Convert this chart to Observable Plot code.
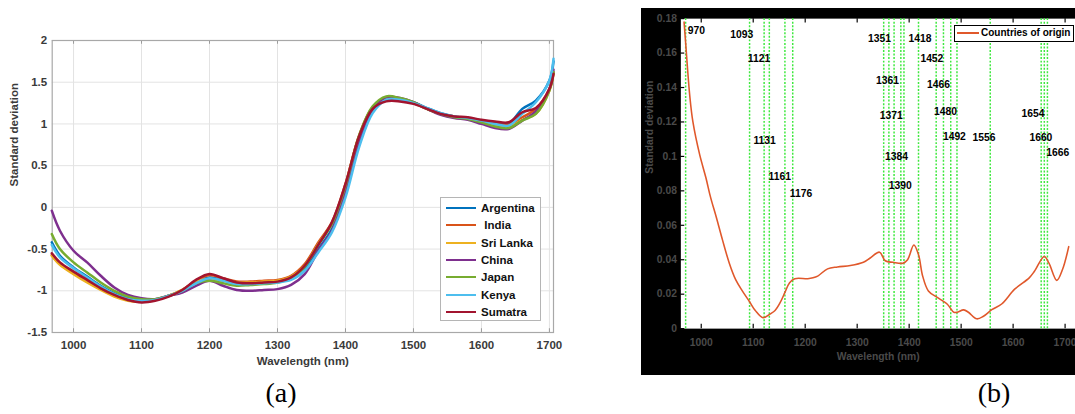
<!DOCTYPE html>
<html><head><meta charset="utf-8">
<script src="https://cdn.jsdelivr.net/npm/d3@7"></script>
<script src="https://cdn.jsdelivr.net/npm/@observablehq/plot@0.6"></script>
<style>
html,body{margin:0;padding:0;background:#fff;overflow:hidden;}
#page{position:relative;width:1075px;height:414px;overflow:hidden;font-family:"Liberation Sans",Arial,sans-serif;}
#pa{position:absolute;left:0;top:0;}
#pbbg{position:absolute;left:641px;top:8px;width:434px;height:367px;background:#000;}
#pb{position:absolute;left:641px;top:8px;}
.cap{position:absolute;top:376px;font-family:"Liberation Serif","Times New Roman",serif;font-size:28px;line-height:34px;color:#000;transform:translateX(-50%);}
#lega{position:absolute;left:440px;top:197px;width:101px;height:124px;border:1px solid #b5b5b5;background:#fff;box-sizing:border-box;}
.lrow{position:absolute;left:4px;height:14px;width:96px;}
.lrow .sw{position:absolute;left:1px;top:6px;width:30px;height:0;border-top:2.5px solid;}
.lrow .tx{position:absolute;left:36px;top:-1px;font-size:11.5px;font-weight:bold;color:#111;white-space:pre;line-height:16px;}
#legb{position:absolute;left:954px;top:25px;width:120px;height:17px;border:1.5px solid #000;background:#fff;box-sizing:border-box;}
#legb .sw{position:absolute;left:2px;top:6px;width:22px;height:0;border-top:2px solid #e0582b;}
#legb .tx{position:absolute;left:26px;top:0px;font-size:10px;font-weight:bold;color:#000;line-height:14px;white-space:nowrap;}
</style>
</head><body>
<div id="page">
  <div id="pa"></div>
  <div id="pbbg"></div>
  <div id="pb"></div>
  <div id="lega"></div>
  <div id="legb"><div class="sw"></div><div class="tx">Countries of origin</div></div>
  <div class="cap" style="left:281px">(a)</div>
  <div class="cap" style="left:994px">(b)</div>
</div>
<script>
// ---------- Panel (a) data ----------
const countries = ["Argentina", " India", "Sri Lanka", "China", "Japan", "Kenya", "Sumatra"];
const countryColors = ["#0072BD", "#D95319", "#EDB120", "#7E2F8E", "#77AC30", "#4DBEEE", "#A2142F"];
const wavelengthsA = [968, 980, 1000, 1020, 1040, 1060, 1080, 1100, 1120, 1140, 1160, 1180, 1200, 1220, 1240, 1260, 1280, 1300, 1320, 1340, 1360, 1380, 1400, 1420, 1440, 1460, 1480, 1500, 1520, 1540, 1560, 1580, 1600, 1620, 1640, 1660, 1680, 1700, 1706];
const argentina = [-0.42, -0.58, -0.72, -0.83, -0.94, -1.03, -1.09, -1.12, -1.11, -1.06, -1.00, -0.90, -0.84, -0.87, -0.91, -0.91, -0.90, -0.89, -0.86, -0.74, -0.50, -0.26, 0.18, 0.78, 1.16, 1.31, 1.30, 1.26, 1.19, 1.13, 1.09, 1.07, 1.04, 1.01, 1.00, 1.18, 1.28, 1.52, 1.75];
const india     = [-0.57, -0.68, -0.79, -0.89, -0.98, -1.06, -1.11, -1.13, -1.11, -1.06, -0.99, -0.88, -0.81, -0.85, -0.89, -0.89, -0.88, -0.87, -0.82, -0.68, -0.42, -0.18, 0.28, 0.86, 1.20, 1.30, 1.29, 1.25, 1.18, 1.12, 1.09, 1.07, 1.04, 1.00, 0.99, 1.08, 1.18, 1.42, 1.62];
const sriLanka  = [-0.58, -0.69, -0.80, -0.90, -0.99, -1.07, -1.12, -1.13, -1.11, -1.06, -0.99, -0.89, -0.86, -0.88, -0.90, -0.90, -0.89, -0.88, -0.83, -0.70, -0.44, -0.19, 0.27, 0.85, 1.20, 1.31, 1.30, 1.25, 1.18, 1.12, 1.08, 1.06, 1.02, 0.98, 0.96, 1.05, 1.12, 1.40, 1.60];
const china     = [-0.04, -0.28, -0.52, -0.66, -0.82, -0.96, -1.05, -1.09, -1.10, -1.06, -1.02, -0.94, -0.88, -0.94, -0.99, -1.00, -0.99, -0.98, -0.93, -0.80, -0.52, -0.28, 0.20, 0.80, 1.17, 1.32, 1.31, 1.26, 1.18, 1.11, 1.07, 1.05, 1.00, 0.95, 0.94, 1.04, 1.15, 1.42, 1.65];
const japan     = [-0.32, -0.50, -0.66, -0.78, -0.90, -1.00, -1.07, -1.10, -1.10, -1.06, -1.00, -0.91, -0.88, -0.91, -0.94, -0.93, -0.92, -0.90, -0.85, -0.71, -0.45, -0.20, 0.26, 0.86, 1.21, 1.33, 1.31, 1.26, 1.18, 1.12, 1.08, 1.06, 1.02, 0.97, 0.95, 1.04, 1.12, 1.40, 1.62];
const kenya     = [-0.45, -0.60, -0.73, -0.84, -0.95, -1.04, -1.10, -1.12, -1.11, -1.06, -1.00, -0.91, -0.85, -0.88, -0.92, -0.92, -0.91, -0.90, -0.87, -0.76, -0.54, -0.30, 0.12, 0.72, 1.13, 1.29, 1.29, 1.25, 1.19, 1.13, 1.09, 1.07, 1.04, 1.00, 0.98, 1.12, 1.26, 1.52, 1.78];
const sumatra   = [-0.55, -0.66, -0.77, -0.87, -0.97, -1.05, -1.11, -1.14, -1.12, -1.07, -0.99, -0.87, -0.80, -0.85, -0.90, -0.91, -0.90, -0.89, -0.84, -0.70, -0.45, -0.18, 0.28, 0.85, 1.18, 1.27, 1.27, 1.24, 1.18, 1.12, 1.09, 1.08, 1.05, 1.03, 1.02, 1.14, 1.19, 1.42, 1.60];
const seriesA = [argentina, india, sriLanka, china, japan, kenya, sumatra];
const xTicksA = [1000, 1100, 1200, 1300, 1400, 1500, 1600, 1700];
const yTicksA = [-1.5, -1, -0.5, 0, 0.5, 1, 1.5, 2];

// ---------- Panel (b) data ----------
const wavelengthsB = [967, 970, 978, 984, 997, 1009, 1018, 1029, 1041, 1054, 1066, 1079, 1093, 1104, 1119, 1133, 1142, 1152, 1161, 1170, 1180, 1205, 1215, 1224, 1243, 1262, 1287, 1312, 1325, 1343, 1354, 1369, 1388, 1397, 1409, 1418, 1426, 1437, 1454, 1473, 1486, 1492, 1505, 1514, 1530, 1543, 1559, 1578, 1603, 1631, 1641, 1660, 1669, 1684, 1695, 1707];
const stdB = [0.178, 0.166, 0.135, 0.120, 0.101, 0.0876, 0.0762, 0.0647, 0.0514, 0.038, 0.0286, 0.0219, 0.0156, 0.0105, 0.0063, 0.0086, 0.0105, 0.0152, 0.021, 0.0267, 0.029, 0.029, 0.0295, 0.0305, 0.0347, 0.0358, 0.0366, 0.0385, 0.041, 0.0444, 0.0394, 0.0385, 0.038, 0.040, 0.0486, 0.0429, 0.0305, 0.0219, 0.0181, 0.0143, 0.0095, 0.0095, 0.0109, 0.0095, 0.0057, 0.0072, 0.011, 0.0143, 0.0229, 0.0295, 0.0333, 0.0419, 0.038, 0.028, 0.0343, 0.0476];
const bands = [970, 1093, 1121, 1131, 1161, 1176, 1351, 1361, 1371, 1384, 1390, 1418, 1452, 1466, 1480, 1492, 1556, 1654, 1660, 1666];
const bandLabelX = [990.5, 1078, 1111, 1122, 1151, 1192, 1343, 1358.5, 1365.7, 1375.6, 1382.8, 1421, 1443.7, 1456.4, 1470, 1487, 1543.8, 1638.4, 1653.4, 1685.8];
const bandLabelY = [0.1728, 0.1709, 0.1567, 0.1089, 0.0883, 0.0781, 0.1682, 0.144, 0.1238, 0.1, 0.0832, 0.1682, 0.1567, 0.1415, 0.1259, 0.1116, 0.1109, 0.1246, 0.1109, 0.1019];
const xTicksB = [1000, 1100, 1200, 1300, 1400, 1500, 1600, 1700];
const yTicksB = [0, 0.02, 0.04, 0.06, 0.08, 0.1, 0.12, 0.14, 0.16, 0.18];

// ---------- Panel (a) ----------
const tidyA = countries.flatMap((c, i) => wavelengthsA.map((w, j) => ({country: c, w, v: seriesA[i][j]})));
const xDomA = [968.6, 1706];
const yDomA = [-1.5, 2];
const plotA = Plot.plot({
  width: 575, height: 380,
  marginLeft: 51.7, marginTop: 40, marginRight: 22, marginBottom: 48,
  style: {fontFamily: "'Liberation Sans', Arial, sans-serif", fontSize: "11.5px", fontWeight: "bold", background: "transparent"},
  x: {domain: xDomA},
  y: {domain: yDomA},
  color: {domain: countries, range: countryColors},
  marks: [
    Plot.gridX(xTicksA, {stroke: "#e3e3e3", strokeOpacity: 1}),
    Plot.gridY(yTicksA, {stroke: "#e3e3e3", strokeOpacity: 1}),
    Plot.ruleX(xTicksA, {x: d => d, y1: 2, y2: 1.955, stroke: "#9a9a9a"}),
    Plot.ruleX(xTicksA, {x: d => d, y1: -1.5, y2: -1.455, stroke: "#9a9a9a"}),
    Plot.frame({stroke: "#a8a8a8", strokeWidth: 1.2}),
    Plot.line(tidyA, {x: "w", y: "v", z: "country", stroke: "country", curve: "catmull-rom", strokeWidth: 2.5}),
    Plot.axisX({ticks: xTicksA, tickSize: 0, tickPadding: 8, tickFormat: d => String(d), label: null, fill: "#3a3a3a"}),
    Plot.axisY({ticks: yTicksA, tickSize: 0, tickPadding: 5, tickFormat: d => String(d), label: null, fill: "#3a3a3a"}),
    Plot.text(["Wavelength (nm)"], {frameAnchor: "bottom", dy: 29, lineAnchor: "middle", fill: "#3a3a3a", fontSize: 11.5}),
    Plot.text(["Standard deviation"], {frameAnchor: "left", dx: -38, rotate: -90, lineAnchor: "middle", fill: "#3a3a3a", fontSize: 11.5})
  ]
});
document.getElementById("pa").appendChild(plotA);

// legend (a)
const lega = document.getElementById("lega");
countries.forEach((c, i) => {
  const row = document.createElement("div");
  row.className = "lrow";
  row.style.top = (3 + i * 17.3) + "px";
  row.innerHTML = `<div class="sw" style="border-color:${countryColors[i]}"></div><div class="tx">${c}</div>`;
  lega.appendChild(row);
});

// ---------- Panel (b) ----------
const lineB = wavelengthsB.map((w, i) => ({w, v: stdB[i]}));
const labelsB = bands.map((b, i) => ({b, x: bandLabelX[i], y: bandLabelY[i]}));
const xDomB = [960.8, 1720];
const plotB = Plot.plot({
  width: 441, height: 367,
  marginLeft: 40, marginTop: 10.3, marginRight: 0, marginBottom: 41.7,
  style: {fontFamily: "'Liberation Sans', Arial, sans-serif", fontSize: "10.5px", fontWeight: "bold", background: "black"},
  x: {domain: xDomB},
  y: {domain: [0, 0.18]},
  marks: [
    Plot.frame({fill: "white", stroke: null}),
    Plot.ruleX(bands, {x: d => d, stroke: "#3ee83e", strokeWidth: 1.5, strokeDasharray: "2,1.6"}),
    Plot.line(lineB, {x: "w", y: "v", stroke: "#e0582b", strokeWidth: 1.6, curve: "catmull-rom"}),
    Plot.ruleX(xTicksB, {x: d => d, y1: 0.18, y2: 0.1775, stroke: "black", strokeWidth: 1.2}),
    Plot.ruleX(xTicksB, {x: d => d, y1: 0, y2: 0.0025, stroke: "black", strokeWidth: 1.2}),
    Plot.ruleY(yTicksB, {y: d => d, x1: xDomB[0], x2: xDomB[0] + 7.5, stroke: "black", strokeWidth: 1.2}),
    Plot.text(labelsB, {x: "x", y: "y", text: d => String(d.b), fill: "black", fontSize: 10.5, fontWeight: "bold"}),
    Plot.axisX({ticks: xTicksB, tickSize: 0, tickPadding: 10, tickFormat: d => String(d), label: null, fill: "#4a4a4a"}),
    Plot.axisY({ticks: yTicksB, tickSize: 0, tickPadding: 4, tickFormat: d => String(d), label: null, fill: "#4a4a4a"}),
    Plot.text(["Wavelength (nm)"], {frameAnchor: "bottom", dy: 29, lineAnchor: "middle", fill: "#4a4a4a", fontSize: 10.5}),
    Plot.text(["Standard deviation"], {frameAnchor: "left", dx: -32, rotate: -90, lineAnchor: "middle", fill: "#4a4a4a", fontSize: 10.5})
  ]
});
document.getElementById("pb").appendChild(plotB);
</script>
</body></html>
